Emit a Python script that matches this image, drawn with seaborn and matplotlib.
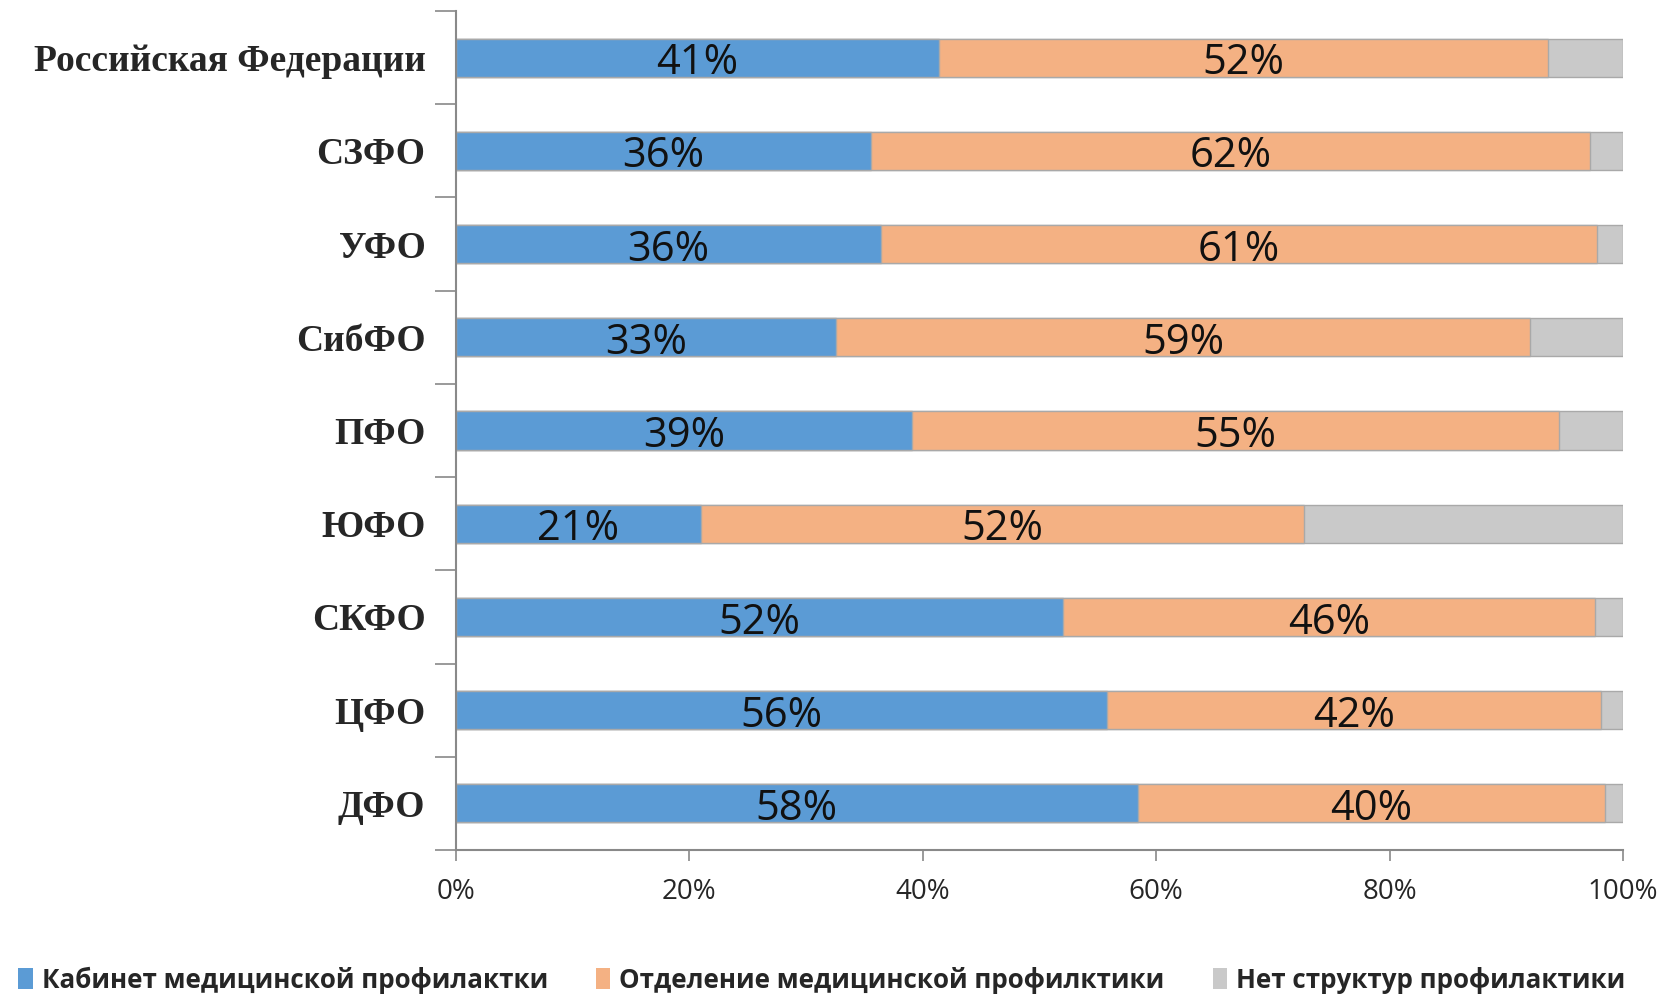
import matplotlib
matplotlib.use("Agg")
import matplotlib.pyplot as plt
import seaborn as sns
import pandas as pd
import numpy as np
from matplotlib.patches import Patch

regions = ["Российская Федерации", "СЗФО", "УФО", "СибФО", "ПФО",
           "ЮФО", "СКФО", "ЦФО", "ДФО"]
cabinet = [41.4, 35.6, 36.4, 32.6, 39.1, 21.0, 52.0, 55.8, 58.4]
department = [52.2, 61.6, 61.4, 59.4, 55.4, 51.7, 45.6, 42.3, 40.1]
no_structure = [6.4, 2.8, 2.2, 8.0, 5.5, 27.3, 2.4, 1.9, 1.5]
series_names = ["Кабинет медицинской профилактки",
                "Отделение медицинской профилктики",
                "Нет структур профилактики"]
xtick_labels = ["0%", "20%", "40%", "60%", "80%", "100%"]

colors = ["#5B9BD5", "#F4B183", "#C9C9C9"]
edge = "#A9A9A9"
axis_col = "#898989"
label_font = ["Open Sans", "DejaVu Sans"]
legend_font = ["Open Sans", "DejaVu Sans"]

sns.set_theme(style="white")
plt.rcParams["font.family"] = ["Open Sans", "DejaVu Sans"]

df = pd.DataFrame({"region": regions, "cab": cabinet,
                   "dep": department, "none": no_structure})
df["c1"] = df["cab"]
df["c2"] = df["cab"] + df["dep"]
df["c3"] = df["c2"] + df["none"]

fig = plt.figure(figsize=(16.73, 9.96), dpi=100)
ax = fig.add_axes([456 / 1673, 1 - 850 / 996, (1623 - 456) / 1673, (850 - 11) / 996])

# stacked bars: draw cumulative totals from the widest down
for col, c in zip(["c3", "c2", "c1"], colors[::-1]):
    sns.barplot(data=df, x=col, y="region", order=regions, color=c,
                width=0.41, edgecolor=edge, linewidth=1.0, saturation=1,
                ax=ax, orient="h")

# value labels for the first two segments
for i, row in df.iterrows():
    ax.text(row["cab"] / 2, i + 0.06, f"{row['cab']:.0f}%", ha="center", va="center",
            fontsize=30, family=label_font, color="#111111")
    ax.text(row["cab"] + row["dep"] / 2, i + 0.06, f"{row['dep']:.0f}%", ha="center",
            va="center", fontsize=30, family=label_font, color="#111111")

ax.set_xlim(0, 100)
ax.set_ylim(len(regions) - 0.5, -0.5)
ax.set_xlabel("")
ax.set_ylabel("")

ax.set_xticks(np.linspace(0, 100, 6))
ax.set_xticklabels(xtick_labels, family=label_font, fontsize=20)
ax.set_yticks(range(len(regions)))
ax.set_yticklabels(regions, family=["Liberation Serif"], fontweight="bold", fontsize=27)
ax.set_yticks(np.arange(-0.5, len(regions), 1.0), minor=True)

ax.tick_params(axis="x", which="major", direction="out", length=8, width=1.2,
               color=axis_col, pad=12, bottom=True)
ax.tick_params(axis="y", which="major", length=0, pad=22)
ax.tick_params(axis="y", which="minor", direction="out", length=15, width=1.2,
               color=axis_col, left=True)

for side in ["top", "right"]:
    ax.spines[side].set_visible(False)
for side in ["left", "bottom"]:
    ax.spines[side].set_color(axis_col)
    ax.spines[side].set_linewidth(1.5)
ax.grid(False)

handles = [Patch(facecolor=c, edgecolor="none") for c in colors]
fig.legend(handles, series_names, loc="lower left", bbox_to_anchor=(-0.003, -0.021),
           ncol=3, frameon=False, handlelength=0.55, handleheight=0.9,
           handletextpad=0.35, columnspacing=1.85,
           prop={"family": legend_font, "weight": "bold", "size": 18.7})

fig.savefig("out.png", dpi=100, facecolor="white")
